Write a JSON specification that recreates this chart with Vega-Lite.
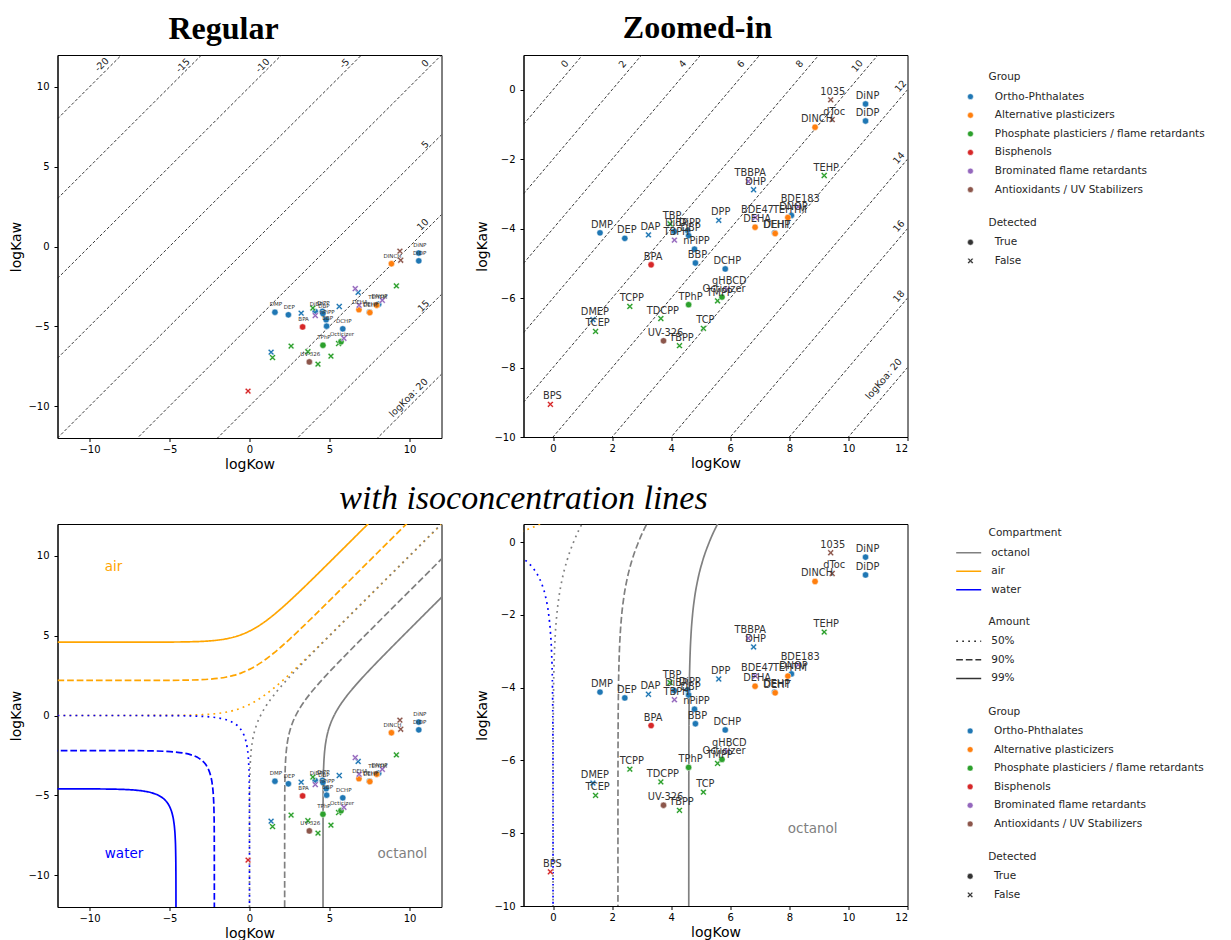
{
  "$schema": "https://vega.github.io/schema/vega-lite/v6.json",
  "background": "white",
  "padding": {"left": 8.5, "top": 11, "right": 5, "bottom": 0},
  "config": {
    "font": "DejaVu Sans",
    "view": {"stroke": "black", "strokeWidth": 1},
    "axis": {"grid": false, "domainColor": "black", "tickColor": "black", "labelColor": "black", "titleColor": "black", "labelFont": "DejaVu Sans", "labelFontSize": 10, "titleFont": "DejaVu Sans", "titleFontSize": 14, "titleFontWeight": "normal", "tickSize": 3.5, "domainWidth": 1},
    "axisX": {"labelPadding": 3, "titlePadding": 3},
    "axisY": {"labelPadding": 5, "titlePadding": 4},
    "title": {"font": "Liberation Serif", "fontSize": 32, "fontWeight": "bold", "color": "black", "anchor": "middle"},
    "legend": {"labelFont": "DejaVu Sans", "titleFont": "DejaVu Sans", "labelFontSize": 10.5, "titleFontSize": 10.5, "titleFontWeight": "normal", "labelColor": "#262626", "titleColor": "#262626", "padding": 0, "titlePadding": 8.25, "rowPadding": 7.6, "clipHeight": 11, "labelLimit": 400, "titleLimit": 400}
  },
  "datasets": {
    "chem": [
      {"n": "DMP", "x": 1.59, "y": -4.12, "g": "Ortho-Phthalates", "d": "True"},
      {"n": "DEP", "x": 2.43, "y": -4.28, "g": "Ortho-Phthalates", "d": "True"},
      {"n": "DAP", "x": 3.23, "y": -4.18, "g": "Ortho-Phthalates", "d": "False"},
      {"n": "DiBP", "x": 4.11, "y": -4.08, "g": "Ortho-Phthalates", "d": "True"},
      {"n": "DiPP", "x": 4.56, "y": -4.06, "g": "Ortho-Phthalates", "d": "True"},
      {"n": "DBP", "x": 4.59, "y": -4.2, "g": "Ortho-Phthalates", "d": "True"},
      {"n": "nPiPP", "x": 4.79, "y": -4.59, "g": "Ortho-Phthalates", "d": "True"},
      {"n": "BBP", "x": 4.82, "y": -4.99, "g": "Ortho-Phthalates", "d": "True"},
      {"n": "DPP", "x": 5.61, "y": -3.76, "g": "Ortho-Phthalates", "d": "False"},
      {"n": "DCHP", "x": 5.83, "y": -5.16, "g": "Ortho-Phthalates", "d": "True"},
      {"n": "DHP", "x": 6.79, "y": -2.88, "g": "Ortho-Phthalates", "d": "False"},
      {"n": "DMEP", "x": 1.35, "y": -6.62, "g": "Ortho-Phthalates", "d": "False"},
      {"n": "DEHP", "x": 7.5, "y": -4.12, "g": "Ortho-Phthalates", "d": "True"},
      {"n": "DNOP", "x": 8.07, "y": -3.62, "g": "Ortho-Phthalates", "d": "True"},
      {"n": "DiNP", "x": 10.58, "y": -0.41, "g": "Ortho-Phthalates", "d": "True"},
      {"n": "DiDP", "x": 10.58, "y": -0.9, "g": "Ortho-Phthalates", "d": "True"},
      {"n": "DINCH", "x": 8.87, "y": -1.08, "g": "Alternative plasticizers", "d": "True"},
      {"n": "DEHA", "x": 6.84, "y": -3.96, "g": "Alternative plasticizers", "d": "True"},
      {"n": "DEHT", "x": 7.52, "y": -4.14, "g": "Alternative plasticizers", "d": "True"},
      {"n": "TEHTM", "x": 7.95, "y": -3.68, "g": "Alternative plasticizers", "d": "True"},
      {"n": "TBP", "x": 3.96, "y": -3.86, "g": "Phosphate plasticiers / flame retardants", "d": "False"},
      {"n": "TCPP", "x": 2.6, "y": -6.24, "g": "Phosphate plasticiers / flame retardants", "d": "False"},
      {"n": "TCEP", "x": 1.44, "y": -6.96, "g": "Phosphate plasticiers / flame retardants", "d": "False"},
      {"n": "TDCPP", "x": 3.65, "y": -6.59, "g": "Phosphate plasticiers / flame retardants", "d": "False"},
      {"n": "TPhP", "x": 4.59, "y": -6.19, "g": "Phosphate plasticiers / flame retardants", "d": "True"},
      {"n": "TMPP", "x": 5.57, "y": -6.08, "g": "Phosphate plasticiers / flame retardants", "d": "False"},
      {"n": "Octicizer", "x": 5.72, "y": -5.97, "g": "Phosphate plasticiers / flame retardants", "d": "True"},
      {"n": "TCP", "x": 5.09, "y": -6.87, "g": "Phosphate plasticiers / flame retardants", "d": "False"},
      {"n": "TBPP", "x": 4.28, "y": -7.37, "g": "Phosphate plasticiers / flame retardants", "d": "False"},
      {"n": "TEHP", "x": 9.18, "y": -2.47, "g": "Phosphate plasticiers / flame retardants", "d": "False"},
      {"n": "BPA", "x": 3.32, "y": -5.04, "g": "Bisphenols", "d": "True"},
      {"n": "BPS", "x": -0.09, "y": -9.06, "g": "Bisphenols", "d": "False"},
      {"n": "TBBPA", "x": 6.61, "y": -2.64, "g": "Brominated flame retardants", "d": "False"},
      {"n": "BDE47", "x": 6.85, "y": -3.68, "g": "Brominated flame retardants", "d": "False"},
      {"n": "BDE183", "x": 8.3, "y": -3.37, "g": "Brominated flame retardants", "d": "False"},
      {"n": "TBPH", "x": 4.11, "y": -4.33, "g": "Brominated flame retardants", "d": "False"},
      {"n": "gHBCD", "x": 5.9, "y": -5.75, "g": "Brominated flame retardants", "d": "False"},
      {"n": "1035", "x": 9.4, "y": -0.29, "g": "Antioxidants / UV Stabilizers", "d": "False"},
      {"n": "dToc", "x": 9.45, "y": -0.86, "g": "Antioxidants / UV Stabilizers", "d": "False"},
      {"n": "UV-326", "x": 3.74, "y": -7.23, "g": "Antioxidants / UV Stabilizers", "d": "True"}
    ],
    "koaR": [
      {"k": -20, "x": -12, "y": 8}, {"k": -20, "x": 12, "y": 32},
      {"k": -15, "x": -12, "y": 3}, {"k": -15, "x": 12, "y": 27},
      {"k": -10, "x": -12, "y": -2}, {"k": -10, "x": 12, "y": 22},
      {"k": -5, "x": -12, "y": -7}, {"k": -5, "x": 12, "y": 17},
      {"k": 0, "x": -12, "y": -12}, {"k": 0, "x": 12, "y": 12},
      {"k": 5, "x": -12, "y": -17}, {"k": 5, "x": 12, "y": 7},
      {"k": 10, "x": -12, "y": -22}, {"k": 10, "x": 12, "y": 2},
      {"k": 15, "x": -12, "y": -27}, {"k": 15, "x": 12, "y": -3},
      {"k": 20, "x": -12, "y": -32}, {"k": 20, "x": 12, "y": -8}
    ],
    "koaRLab": [
      {"t": "-20", "x": -9.23, "y": 11.39},
      {"t": "-15", "x": -4.16, "y": 11.33},
      {"t": "-10", "x": 0.82, "y": 11.33},
      {"t": "-5", "x": 5.94, "y": 11.46},
      {"t": "0", "x": 10.99, "y": 11.46},
      {"t": "5", "x": 10.99, "y": 6.38},
      {"t": "10", "x": 10.84, "y": 1.37},
      {"t": "15", "x": 10.88, "y": -3.74},
      {"t": "logKoa: 20", "x": 9.94, "y": -9.48}
    ],
    "koaZ": [
      {"k": 0, "x": -1, "y": -1}, {"k": 0, "x": 12, "y": 12},
      {"k": 2, "x": -1, "y": -3}, {"k": 2, "x": 12, "y": 10},
      {"k": 4, "x": -1, "y": -5}, {"k": 4, "x": 12, "y": 8},
      {"k": 6, "x": -1, "y": -7}, {"k": 6, "x": 12, "y": 6},
      {"k": 8, "x": -1, "y": -9}, {"k": 8, "x": 12, "y": 4},
      {"k": 10, "x": -1, "y": -11}, {"k": 10, "x": 12, "y": 2},
      {"k": 12, "x": -1, "y": -13}, {"k": 12, "x": 12, "y": 0},
      {"k": 14, "x": -1, "y": -15}, {"k": 14, "x": 12, "y": -2},
      {"k": 16, "x": -1, "y": -17}, {"k": 16, "x": 12, "y": -4},
      {"k": 18, "x": -1, "y": -19}, {"k": 18, "x": 12, "y": -6},
      {"k": 20, "x": -1, "y": -21}, {"k": 20, "x": 12, "y": -8}
    ],
    "koaZLab": [
      {"t": "0", "x": 0.4, "y": 0.74},
      {"t": "2", "x": 2.36, "y": 0.73},
      {"t": "4", "x": 4.39, "y": 0.74},
      {"t": "6", "x": 6.36, "y": 0.74},
      {"t": "8", "x": 8.35, "y": 0.74},
      {"t": "10", "x": 10.3, "y": 0.68},
      {"t": "12", "x": 11.77, "y": 0.1},
      {"t": "14", "x": 11.71, "y": -1.97},
      {"t": "16", "x": 11.71, "y": -3.93},
      {"t": "18", "x": 11.71, "y": -5.95},
      {"t": "logKoa: 20", "x": 11.2, "y": -8.33}
    ],
    "iso": [
      {"c": "air", "a": "50%", "x": -12, "y": 0}, {"c": "air", "a": "50%", "x": -8, "y": 0.0003}, {"c": "air", "a": "50%", "x": -6, "y": 0.0025}, {"c": "air", "a": "50%", "x": -5, "y": 0.0067}, {"c": "air", "a": "50%", "x": -4, "y": 0.0181}, {"c": "air", "a": "50%", "x": -3, "y": 0.0486}, {"c": "air", "a": "50%", "x": -2.5, "y": 0.0789}, {"c": "air", "a": "50%", "x": -2, "y": 0.1269}, {"c": "air", "a": "50%", "x": -1.5, "y": 0.2014}, {"c": "air", "a": "50%", "x": -1, "y": 0.3133}, {"c": "air", "a": "50%", "x": -0.5, "y": 0.4741}, {"c": "air", "a": "50%", "x": 0, "y": 0.6931}, {"c": "air", "a": "50%", "x": 0.5, "y": 0.9741}, {"c": "air", "a": "50%", "x": 1, "y": 1.3133}, {"c": "air", "a": "50%", "x": 1.5, "y": 1.7014}, {"c": "air", "a": "50%", "x": 2, "y": 2.1269}, {"c": "air", "a": "50%", "x": 2.5, "y": 2.5789}, {"c": "air", "a": "50%", "x": 3, "y": 3.0486}, {"c": "air", "a": "50%", "x": 4, "y": 4.0181}, {"c": "air", "a": "50%", "x": 5, "y": 5.0067}, {"c": "air", "a": "50%", "x": 6, "y": 6.0025}, {"c": "air", "a": "50%", "x": 8, "y": 8.0003}, {"c": "air", "a": "50%", "x": 12, "y": 12},
      {"c": "air", "a": "90%", "x": -12, "y": 2.1972}, {"c": "air", "a": "90%", "x": -8, "y": 2.1975}, {"c": "air", "a": "90%", "x": -6, "y": 2.1997}, {"c": "air", "a": "90%", "x": -5, "y": 2.2039}, {"c": "air", "a": "90%", "x": -4, "y": 2.2153}, {"c": "air", "a": "90%", "x": -3, "y": 2.2458}, {"c": "air", "a": "90%", "x": -2.5, "y": 2.2761}, {"c": "air", "a": "90%", "x": -2, "y": 2.3241}, {"c": "air", "a": "90%", "x": -1.5, "y": 2.3986}, {"c": "air", "a": "90%", "x": -1, "y": 2.5105}, {"c": "air", "a": "90%", "x": -0.5, "y": 2.6713}, {"c": "air", "a": "90%", "x": 0, "y": 2.8903}, {"c": "air", "a": "90%", "x": 0.5, "y": 3.1713}, {"c": "air", "a": "90%", "x": 1, "y": 3.5105}, {"c": "air", "a": "90%", "x": 1.5, "y": 3.8986}, {"c": "air", "a": "90%", "x": 2, "y": 4.3241}, {"c": "air", "a": "90%", "x": 2.5, "y": 4.7761}, {"c": "air", "a": "90%", "x": 3, "y": 5.2458}, {"c": "air", "a": "90%", "x": 4, "y": 6.2153}, {"c": "air", "a": "90%", "x": 5, "y": 7.2039}, {"c": "air", "a": "90%", "x": 6, "y": 8.1997}, {"c": "air", "a": "90%", "x": 8, "y": 10.1975}, {"c": "air", "a": "90%", "x": 12, "y": 14.1972},
      {"c": "air", "a": "99%", "x": -12, "y": 4.5951}, {"c": "air", "a": "99%", "x": -8, "y": 4.5954}, {"c": "air", "a": "99%", "x": -6, "y": 4.5976}, {"c": "air", "a": "99%", "x": -5, "y": 4.6018}, {"c": "air", "a": "99%", "x": -4, "y": 4.6132}, {"c": "air", "a": "99%", "x": -3, "y": 4.6437}, {"c": "air", "a": "99%", "x": -2.5, "y": 4.674}, {"c": "air", "a": "99%", "x": -2, "y": 4.722}, {"c": "air", "a": "99%", "x": -1.5, "y": 4.7965}, {"c": "air", "a": "99%", "x": -1, "y": 4.9084}, {"c": "air", "a": "99%", "x": -0.5, "y": 5.0692}, {"c": "air", "a": "99%", "x": 0, "y": 5.2882}, {"c": "air", "a": "99%", "x": 0.5, "y": 5.5692}, {"c": "air", "a": "99%", "x": 1, "y": 5.9084}, {"c": "air", "a": "99%", "x": 1.5, "y": 6.2965}, {"c": "air", "a": "99%", "x": 2, "y": 6.722}, {"c": "air", "a": "99%", "x": 2.5, "y": 7.174}, {"c": "air", "a": "99%", "x": 3, "y": 7.6437}, {"c": "air", "a": "99%", "x": 4, "y": 8.6132}, {"c": "air", "a": "99%", "x": 5, "y": 9.6018}, {"c": "air", "a": "99%", "x": 6, "y": 10.5976}, {"c": "air", "a": "99%", "x": 8, "y": 12.5954}, {"c": "air", "a": "99%", "x": 12, "y": 16.5951},
      {"c": "octanol", "a": "50%", "x": 0, "y": -12}, {"c": "octanol", "a": "50%", "x": 0.0003, "y": -8}, {"c": "octanol", "a": "50%", "x": 0.0025, "y": -6}, {"c": "octanol", "a": "50%", "x": 0.0067, "y": -5}, {"c": "octanol", "a": "50%", "x": 0.0181, "y": -4}, {"c": "octanol", "a": "50%", "x": 0.0298, "y": -3.5}, {"c": "octanol", "a": "50%", "x": 0.0486, "y": -3}, {"c": "octanol", "a": "50%", "x": 0.0789, "y": -2.5}, {"c": "octanol", "a": "50%", "x": 0.1269, "y": -2}, {"c": "octanol", "a": "50%", "x": 0.2014, "y": -1.5}, {"c": "octanol", "a": "50%", "x": 0.3133, "y": -1}, {"c": "octanol", "a": "50%", "x": 0.4741, "y": -0.5}, {"c": "octanol", "a": "50%", "x": 0.6931, "y": 0}, {"c": "octanol", "a": "50%", "x": 0.9741, "y": 0.5}, {"c": "octanol", "a": "50%", "x": 1.3133, "y": 1}, {"c": "octanol", "a": "50%", "x": 1.7014, "y": 1.5}, {"c": "octanol", "a": "50%", "x": 2.1269, "y": 2}, {"c": "octanol", "a": "50%", "x": 2.5789, "y": 2.5}, {"c": "octanol", "a": "50%", "x": 3.0486, "y": 3}, {"c": "octanol", "a": "50%", "x": 4.0181, "y": 4}, {"c": "octanol", "a": "50%", "x": 5.0067, "y": 5}, {"c": "octanol", "a": "50%", "x": 6.0025, "y": 6}, {"c": "octanol", "a": "50%", "x": 8.0003, "y": 8}, {"c": "octanol", "a": "50%", "x": 12, "y": 12},
      {"c": "octanol", "a": "90%", "x": 2.1972, "y": -12}, {"c": "octanol", "a": "90%", "x": 2.1975, "y": -8}, {"c": "octanol", "a": "90%", "x": 2.1997, "y": -6}, {"c": "octanol", "a": "90%", "x": 2.2039, "y": -5}, {"c": "octanol", "a": "90%", "x": 2.2153, "y": -4}, {"c": "octanol", "a": "90%", "x": 2.227, "y": -3.5}, {"c": "octanol", "a": "90%", "x": 2.2458, "y": -3}, {"c": "octanol", "a": "90%", "x": 2.2761, "y": -2.5}, {"c": "octanol", "a": "90%", "x": 2.3241, "y": -2}, {"c": "octanol", "a": "90%", "x": 2.3986, "y": -1.5}, {"c": "octanol", "a": "90%", "x": 2.5105, "y": -1}, {"c": "octanol", "a": "90%", "x": 2.6713, "y": -0.5}, {"c": "octanol", "a": "90%", "x": 2.8903, "y": 0}, {"c": "octanol", "a": "90%", "x": 3.1713, "y": 0.5}, {"c": "octanol", "a": "90%", "x": 3.5105, "y": 1}, {"c": "octanol", "a": "90%", "x": 3.8986, "y": 1.5}, {"c": "octanol", "a": "90%", "x": 4.3241, "y": 2}, {"c": "octanol", "a": "90%", "x": 4.7761, "y": 2.5}, {"c": "octanol", "a": "90%", "x": 5.2458, "y": 3}, {"c": "octanol", "a": "90%", "x": 6.2153, "y": 4}, {"c": "octanol", "a": "90%", "x": 7.2039, "y": 5}, {"c": "octanol", "a": "90%", "x": 8.1997, "y": 6}, {"c": "octanol", "a": "90%", "x": 10.1975, "y": 8}, {"c": "octanol", "a": "90%", "x": 14.1972, "y": 12},
      {"c": "octanol", "a": "99%", "x": 4.5951, "y": -12}, {"c": "octanol", "a": "99%", "x": 4.5954, "y": -8}, {"c": "octanol", "a": "99%", "x": 4.5976, "y": -6}, {"c": "octanol", "a": "99%", "x": 4.6018, "y": -5}, {"c": "octanol", "a": "99%", "x": 4.6132, "y": -4}, {"c": "octanol", "a": "99%", "x": 4.6249, "y": -3.5}, {"c": "octanol", "a": "99%", "x": 4.6437, "y": -3}, {"c": "octanol", "a": "99%", "x": 4.674, "y": -2.5}, {"c": "octanol", "a": "99%", "x": 4.722, "y": -2}, {"c": "octanol", "a": "99%", "x": 4.7965, "y": -1.5}, {"c": "octanol", "a": "99%", "x": 4.9084, "y": -1}, {"c": "octanol", "a": "99%", "x": 5.0692, "y": -0.5}, {"c": "octanol", "a": "99%", "x": 5.2882, "y": 0}, {"c": "octanol", "a": "99%", "x": 5.5692, "y": 0.5}, {"c": "octanol", "a": "99%", "x": 5.9084, "y": 1}, {"c": "octanol", "a": "99%", "x": 6.2965, "y": 1.5}, {"c": "octanol", "a": "99%", "x": 6.722, "y": 2}, {"c": "octanol", "a": "99%", "x": 7.174, "y": 2.5}, {"c": "octanol", "a": "99%", "x": 7.6437, "y": 3}, {"c": "octanol", "a": "99%", "x": 8.6132, "y": 4}, {"c": "octanol", "a": "99%", "x": 9.6018, "y": 5}, {"c": "octanol", "a": "99%", "x": 10.5976, "y": 6}, {"c": "octanol", "a": "99%", "x": 12.5954, "y": 8}, {"c": "octanol", "a": "99%", "x": 16.5951, "y": 12},
      {"c": "water", "a": "50%", "x": -12, "y": 0}, {"c": "water", "a": "50%", "x": -8, "y": -0.0003}, {"c": "water", "a": "50%", "x": -6, "y": -0.0025}, {"c": "water", "a": "50%", "x": -5, "y": -0.0068}, {"c": "water", "a": "50%", "x": -4, "y": -0.0185}, {"c": "water", "a": "50%", "x": -3, "y": -0.0511}, {"c": "water", "a": "50%", "x": -2.5, "y": -0.0857}, {"c": "water", "a": "50%", "x": -2, "y": -0.1454}, {"c": "water", "a": "50%", "x": -1.5, "y": -0.2525}, {"c": "water", "a": "50%", "x": -1.2, "y": -0.3584}, {"c": "water", "a": "50%", "x": -1, "y": -0.4587}, {"c": "water", "a": "50%", "x": -0.8, "y": -0.5966}, {"c": "water", "a": "50%", "x": -0.6931, "y": -0.6931}, {"c": "water", "a": "50%", "x": -0.5966, "y": -0.8}, {"c": "water", "a": "50%", "x": -0.4587, "y": -1}, {"c": "water", "a": "50%", "x": -0.3584, "y": -1.2}, {"c": "water", "a": "50%", "x": -0.2525, "y": -1.5}, {"c": "water", "a": "50%", "x": -0.1454, "y": -2}, {"c": "water", "a": "50%", "x": -0.0857, "y": -2.5}, {"c": "water", "a": "50%", "x": -0.0511, "y": -3}, {"c": "water", "a": "50%", "x": -0.0185, "y": -4}, {"c": "water", "a": "50%", "x": -0.0068, "y": -5}, {"c": "water", "a": "50%", "x": -0.0025, "y": -6}, {"c": "water", "a": "50%", "x": -0.0003, "y": -8}, {"c": "water", "a": "50%", "x": 0, "y": -12},
      {"c": "water", "a": "90%", "x": -14.1972, "y": -2.1972}, {"c": "water", "a": "90%", "x": -10.1972, "y": -2.1975}, {"c": "water", "a": "90%", "x": -8.1972, "y": -2.1997}, {"c": "water", "a": "90%", "x": -7.1972, "y": -2.204}, {"c": "water", "a": "90%", "x": -6.1972, "y": -2.2157}, {"c": "water", "a": "90%", "x": -5.1972, "y": -2.2483}, {"c": "water", "a": "90%", "x": -4.6972, "y": -2.2829}, {"c": "water", "a": "90%", "x": -4.1972, "y": -2.3426}, {"c": "water", "a": "90%", "x": -3.6972, "y": -2.4497}, {"c": "water", "a": "90%", "x": -3.3972, "y": -2.5556}, {"c": "water", "a": "90%", "x": -3.1972, "y": -2.6559}, {"c": "water", "a": "90%", "x": -2.9972, "y": -2.7938}, {"c": "water", "a": "90%", "x": -2.8903, "y": -2.8903}, {"c": "water", "a": "90%", "x": -2.7938, "y": -2.9972}, {"c": "water", "a": "90%", "x": -2.6559, "y": -3.1972}, {"c": "water", "a": "90%", "x": -2.5556, "y": -3.3972}, {"c": "water", "a": "90%", "x": -2.4497, "y": -3.6972}, {"c": "water", "a": "90%", "x": -2.3426, "y": -4.1972}, {"c": "water", "a": "90%", "x": -2.2829, "y": -4.6972}, {"c": "water", "a": "90%", "x": -2.2483, "y": -5.1972}, {"c": "water", "a": "90%", "x": -2.2157, "y": -6.1972}, {"c": "water", "a": "90%", "x": -2.204, "y": -7.1972}, {"c": "water", "a": "90%", "x": -2.1997, "y": -8.1972}, {"c": "water", "a": "90%", "x": -2.1975, "y": -10.1972}, {"c": "water", "a": "90%", "x": -2.1972, "y": -14.1972},
      {"c": "water", "a": "99%", "x": -16.5951, "y": -4.5951}, {"c": "water", "a": "99%", "x": -12.5951, "y": -4.5954}, {"c": "water", "a": "99%", "x": -10.5951, "y": -4.5976}, {"c": "water", "a": "99%", "x": -9.5951, "y": -4.6019}, {"c": "water", "a": "99%", "x": -8.5951, "y": -4.6136}, {"c": "water", "a": "99%", "x": -7.5951, "y": -4.6462}, {"c": "water", "a": "99%", "x": -7.0951, "y": -4.6808}, {"c": "water", "a": "99%", "x": -6.5951, "y": -4.7405}, {"c": "water", "a": "99%", "x": -6.0951, "y": -4.8476}, {"c": "water", "a": "99%", "x": -5.7951, "y": -4.9535}, {"c": "water", "a": "99%", "x": -5.5951, "y": -5.0538}, {"c": "water", "a": "99%", "x": -5.3951, "y": -5.1917}, {"c": "water", "a": "99%", "x": -5.2882, "y": -5.2882}, {"c": "water", "a": "99%", "x": -5.1917, "y": -5.3951}, {"c": "water", "a": "99%", "x": -5.0538, "y": -5.5951}, {"c": "water", "a": "99%", "x": -4.9535, "y": -5.7951}, {"c": "water", "a": "99%", "x": -4.8476, "y": -6.0951}, {"c": "water", "a": "99%", "x": -4.7405, "y": -6.5951}, {"c": "water", "a": "99%", "x": -4.6808, "y": -7.0951}, {"c": "water", "a": "99%", "x": -4.6462, "y": -7.5951}, {"c": "water", "a": "99%", "x": -4.6136, "y": -8.5951}, {"c": "water", "a": "99%", "x": -4.6019, "y": -9.5951}, {"c": "water", "a": "99%", "x": -4.5976, "y": -10.5951}, {"c": "water", "a": "99%", "x": -4.5954, "y": -12.5951}, {"c": "water", "a": "99%", "x": -4.5951, "y": -16.5951}
    ]
  },
  "columns": 2,
  "spacing": {"row": 86, "column": 82},
  "bounds": "flush",
  "resolve": {"scale": {"color": "independent", "shape": "independent", "stroke": "independent", "strokeDash": "independent"}},
  "concat": [
    {
      "width": 384, "height": 383,
      "title": {"text": "Regular", "dx": -26, "offset": 9},
      "encoding": {
        "x": {"field": "x", "type": "quantitative", "scale": {"domain": [-12, 12], "nice": false, "zero": false}, "axis": {"values": [-10, -5, 0, 5, 10], "title": "logKow"}},
        "y": {"field": "y", "type": "quantitative", "scale": {"domain": [-12, 12], "nice": false, "zero": false}, "axis": {"values": [-10, -5, 0, 5, 10], "title": "logKaw"}}
      },
      "layer": [
        {"data": {"name": "koaR"}, "mark": {"type": "line", "clip": true, "color": "#222", "strokeWidth": 0.9, "strokeDash": [3, 2]}, "encoding": {"detail": {"field": "k", "type": "nominal"}}},
        {"data": {"name": "koaRLab"}, "mark": {"type": "text", "angle": -45, "fontSize": 9.5, "color": "#222", "align": "center", "baseline": "middle"}, "encoding": {"text": {"field": "t"}}},
        {"data": {"name": "chem"}, "mark": {"type": "point", "filled": true, "size": 40, "stroke": "white", "strokeWidth": 0.5, "opacity": 1},
         "encoding": {
           "color": {"field": "g", "type": "nominal", "scale": {"domain": ["Ortho-Phthalates", "Alternative plasticizers", "Phosphate plasticiers / flame retardants", "Bisphenols", "Brominated flame retardants", "Antioxidants / UV Stabilizers"], "range": ["#1f77b4", "#ff7f0e", "#2ca02c", "#d62728", "#9467bd", "#8c564b"]}, "legend": null},
           "shape": {"field": "d", "type": "nominal", "scale": {"domain": ["True", "False"], "range": ["circle", "M-1,-0.6L-0.6,-1L0,-0.4L0.6,-1L1,-0.6L0.4,0L1,0.6L0.6,1L0,0.4L-0.6,1L-1,0.6L-0.4,0Z"]}, "legend": null}
         }},
        {"data": {"name": "chem"}, "transform": [{"filter": "datum.d == 'True'"}], "mark": {"type": "text", "fontSize": 5.5, "baseline": "bottom", "dy": -5, "dx": 1, "color": "#333"}, "encoding": {"text": {"field": "n"}}}
      ]
    },
    {
      "width": 384, "height": 382,
      "title": {"text": "Zoomed-in", "dx": -18, "offset": 10},
      "encoding": {
        "x": {"field": "x", "type": "quantitative", "scale": {"domain": [-1, 12], "nice": false, "zero": false}, "axis": {"values": [0, 2, 4, 6, 8, 10, 12], "title": "logKow"}},
        "y": {"field": "y", "type": "quantitative", "scale": {"domain": [-10, 1], "nice": false, "zero": false}, "axis": {"values": [-10, -8, -6, -4, -2, 0], "title": "logKaw"}}
      },
      "layer": [
        {"data": {"name": "koaZ"}, "mark": {"type": "line", "clip": true, "color": "#222", "strokeWidth": 0.9, "strokeDash": [3, 2]}, "encoding": {"detail": {"field": "k", "type": "nominal"}}},
        {"data": {"name": "koaZLab"}, "mark": {"type": "text", "angle": -49.5, "fontSize": 9.5, "color": "#222", "align": "center", "baseline": "middle"}, "encoding": {"text": {"field": "t"}}},
        {"data": {"name": "chem"}, "mark": {"type": "point", "filled": true, "size": 40, "stroke": "white", "strokeWidth": 0.5, "opacity": 1},
         "encoding": {
           "color": {"field": "g", "type": "nominal", "scale": {"domain": ["Ortho-Phthalates", "Alternative plasticizers", "Phosphate plasticiers / flame retardants", "Bisphenols", "Brominated flame retardants", "Antioxidants / UV Stabilizers"], "range": ["#1f77b4", "#ff7f0e", "#2ca02c", "#d62728", "#9467bd", "#8c564b"]},
             "legend": {"title": "\u200b\u00a0\u00a0\u00a0\u00a0\u00a0\u00a0\u00a0Group", "orient": "none", "legendX": 441.7, "legendY": 17.4, "labelOffset": 19.1, "symbolSize": 34, "symbolType": "circle", "symbolStrokeColor": "white", "symbolStrokeWidth": 0.5}},
           "shape": {"field": "d", "type": "nominal", "scale": {"domain": ["True", "False"], "range": ["circle", "M-1,-0.6L-0.6,-1L0,-0.4L0.6,-1L1,-0.6L0.4,0L1,0.6L0.6,1L0,0.4L-0.6,1L-1,0.6L-0.4,0Z"]},
             "legend": {"title": "\u200b\u00a0\u00a0\u00a0\u00a0\u00a0\u00a0\u00a0Detected", "orient": "none", "legendX": 441.7, "legendY": 163, "labelOffset": 19.1, "symbolSize": 34, "symbolFillColor": "#333", "symbolStrokeColor": "white", "symbolStrokeWidth": 0.5}}
         }},
        {"data": {"name": "chem"}, "mark": {"type": "text", "fontSize": 9.8, "baseline": "bottom", "dy": -3, "dx": 2, "color": "#333"}, "encoding": {"text": {"field": "n"}}}
      ]
    },
    {
      "width": 384, "height": 383,
      "title": {"text": "with isoconcentration lines", "font": "Liberation Serif", "fontSize": 34, "fontWeight": "normal", "fontStyle": "italic", "dx": 274, "offset": 8},
      "encoding": {
        "x": {"field": "x", "type": "quantitative", "scale": {"domain": [-12, 12], "nice": false, "zero": false}, "axis": {"values": [-10, -5, 0, 5, 10], "title": "logKow"}},
        "y": {"field": "y", "type": "quantitative", "scale": {"domain": [-12, 12], "nice": false, "zero": false}, "axis": {"values": [-10, -5, 0, 5, 10], "title": "logKaw"}}
      },
      "layer": [
        {"data": {"name": "iso"}, "transform": [{"filter": "datum.c != 'water'"}], "mark": {"type": "line", "clip": true, "strokeWidth": 1.7, "interpolate": "monotone"},
         "encoding": {
           "stroke": {"field": "c", "type": "nominal", "scale": {"domain": ["octanol", "air", "water"], "range": ["#808080", "#ffa500", "#0000ff"]}, "legend": null},
           "strokeDash": {"field": "a", "type": "nominal", "scale": {"domain": ["50%", "90%", "99%"], "range": [[1.8, 4.2], [6.7, 2.9], [1, 0]]}, "legend": null}
         }},
        {"data": {"name": "iso"}, "transform": [{"filter": "datum.c == 'water'"}], "mark": {"type": "line", "clip": true, "strokeWidth": 1.7, "interpolate": "monotone"},
         "encoding": {
           "stroke": {"field": "c", "type": "nominal", "legend": null},
           "strokeDash": {"field": "a", "type": "nominal", "legend": null}
         }},
        {"data": {"values": [{"t": "air", "x": -8.5, "y": 9.33}]}, "mark": {"type": "text", "fontSize": 13.5, "color": "#ffa500", "align": "center", "baseline": "middle"}, "encoding": {"text": {"field": "t"}}},
        {"data": {"values": [{"t": "water", "x": -7.84, "y": -8.71}]}, "mark": {"type": "text", "fontSize": 13.5, "color": "#0000ff", "align": "center", "baseline": "middle"}, "encoding": {"text": {"field": "t"}}},
        {"data": {"values": [{"t": "octanol", "x": 9.56, "y": -8.71}]}, "mark": {"type": "text", "fontSize": 13.5, "color": "#808080", "align": "center", "baseline": "middle"}, "encoding": {"text": {"field": "t"}}},
        {"data": {"name": "chem"}, "mark": {"type": "point", "filled": true, "size": 40, "stroke": "white", "strokeWidth": 0.5, "opacity": 1},
         "encoding": {
           "color": {"field": "g", "type": "nominal", "scale": {"domain": ["Ortho-Phthalates", "Alternative plasticizers", "Phosphate plasticiers / flame retardants", "Bisphenols", "Brominated flame retardants", "Antioxidants / UV Stabilizers"], "range": ["#1f77b4", "#ff7f0e", "#2ca02c", "#d62728", "#9467bd", "#8c564b"]}, "legend": null},
           "shape": {"field": "d", "type": "nominal", "scale": {"domain": ["True", "False"], "range": ["circle", "M-1,-0.6L-0.6,-1L0,-0.4L0.6,-1L1,-0.6L0.4,0L1,0.6L0.6,1L0,0.4L-0.6,1L-1,0.6L-0.4,0Z"]}, "legend": null}
         }},
        {"data": {"name": "chem"}, "transform": [{"filter": "datum.d == 'True'"}], "mark": {"type": "text", "fontSize": 5.5, "baseline": "bottom", "dy": -5, "dx": 1, "color": "#333"}, "encoding": {"text": {"field": "n"}}}
      ]
    },
    {
      "width": 384, "height": 382,
      "encoding": {
        "x": {"field": "x", "type": "quantitative", "scale": {"domain": [-1, 12], "nice": false, "zero": false}, "axis": {"values": [0, 2, 4, 6, 8, 10, 12], "title": "logKow"}},
        "y": {"field": "y", "type": "quantitative", "scale": {"domain": [-10, 0.5], "nice": false, "zero": false}, "axis": {"values": [-10, -8, -6, -4, -2, 0], "title": "logKaw"}}
      },
      "layer": [
        {"data": {"name": "iso"}, "transform": [{"filter": "datum.c != 'water'"}], "mark": {"type": "line", "clip": true, "strokeWidth": 1.7, "interpolate": "monotone"},
         "encoding": {
           "stroke": {"field": "c", "type": "nominal", "scale": {"domain": ["octanol", "air", "water"], "range": ["#808080", "#ffa500", "#0000ff"]},
             "legend": {"title": "\u200b\u00a0\u00a0\u00a0\u00a0\u00a0\u00a0\u00a0\u00a0\u00a0\u00a0Compartment", "orient": "none", "legendX": 431.7, "legendY": 4.4, "labelOffset": 9, "symbolSize": 625, "symbolType": "stroke", "symbolStrokeWidth": 1.5}},
           "strokeDash": {"field": "a", "type": "nominal", "scale": {"domain": ["50%", "90%", "99%"], "range": [[1.8, 4.2], [6.7, 2.9], [1, 0]]},
             "legend": {"title": "\u200b\u00a0\u00a0\u00a0\u00a0\u00a0\u00a0\u00a0\u00a0\u00a0\u00a0Amount", "orient": "none", "legendX": 431.7, "legendY": 93, "labelOffset": 9, "symbolSize": 625, "symbolType": "stroke", "symbolStrokeWidth": 1.5, "symbolStrokeColor": "#333"}}
         }},
        {"data": {"name": "iso"}, "transform": [{"filter": "datum.c == 'water'"}], "mark": {"type": "line", "clip": true, "strokeWidth": 1.7, "interpolate": "monotone"},
         "encoding": {
           "stroke": {"field": "c", "type": "nominal"},
           "strokeDash": {"field": "a", "type": "nominal"}
         }},
        {"data": {"values": [{"t": "octanol", "x": 8.79, "y": -7.89}]}, "mark": {"type": "text", "fontSize": 13.5, "color": "#808080", "align": "center", "baseline": "middle"}, "encoding": {"text": {"field": "t"}}},
        {"data": {"name": "chem"}, "mark": {"type": "point", "filled": true, "size": 40, "stroke": "white", "strokeWidth": 0.5, "opacity": 1},
         "encoding": {
           "color": {"field": "g", "type": "nominal", "scale": {"domain": ["Ortho-Phthalates", "Alternative plasticizers", "Phosphate plasticiers / flame retardants", "Bisphenols", "Brominated flame retardants", "Antioxidants / UV Stabilizers"], "range": ["#1f77b4", "#ff7f0e", "#2ca02c", "#d62728", "#9467bd", "#8c564b"]},
             "legend": {"title": "\u200b\u00a0\u00a0\u00a0\u00a0\u00a0\u00a0\u00a0Group", "orient": "none", "legendX": 441.4, "legendY": 182.7, "labelOffset": 18.5, "symbolSize": 34, "symbolType": "circle", "symbolStrokeColor": "white", "symbolStrokeWidth": 0.5}},
           "shape": {"field": "d", "type": "nominal", "scale": {"domain": ["True", "False"], "range": ["circle", "M-1,-0.6L-0.6,-1L0,-0.4L0.6,-1L1,-0.6L0.4,0L1,0.6L0.6,1L0,0.4L-0.6,1L-1,0.6L-0.4,0Z"]},
             "legend": {"title": "\u200b\u00a0\u00a0\u00a0\u00a0\u00a0\u00a0\u00a0Detected", "orient": "none", "legendX": 441.4, "legendY": 328, "labelOffset": 18.5, "symbolSize": 34, "symbolFillColor": "#333", "symbolStrokeColor": "white", "symbolStrokeWidth": 0.5}}
         }},
        {"data": {"name": "chem"}, "mark": {"type": "text", "fontSize": 9.8, "baseline": "bottom", "dy": -3, "dx": 2, "color": "#333"}, "encoding": {"text": {"field": "n"}}}
      ]
    }
  ]
}
